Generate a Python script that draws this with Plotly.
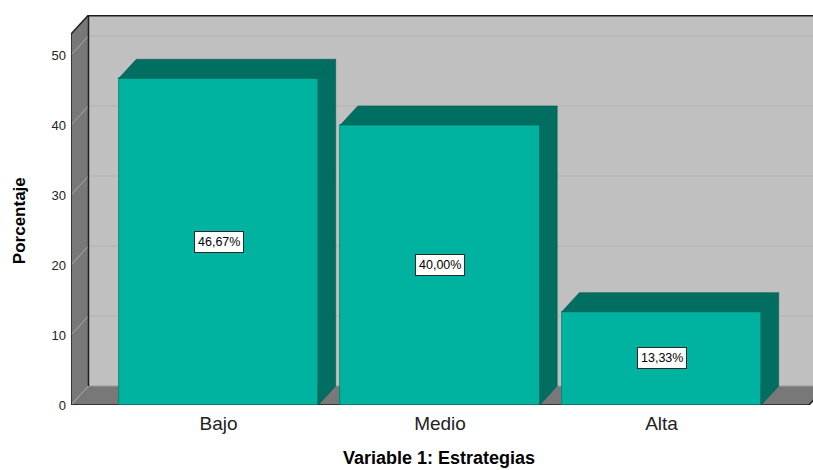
import plotly.graph_objects as go

# Data
categories = ["Bajo", "Medio", "Alta"]
percentages = [46.67, 40.00, 13.33]
y_ticks = [0, 10, 20, 30, 40, 50]

# Colours
FRONT = "#00B3A1"
DARK_FACE = "#006F62"
WALL = "#C0C0C0"
SIDE_WALL = "#787878"
EDGE = "#1E1E1E"

# 3D frame geometry (data units)
X0, XR = -0.666, 2.666          # front left / right of the floor
X_MAX = 2.684                   # right end of the visible x range
DX, DY = 0.079, 2.714           # depth offset (x units, y units)
H = 53.0                        # wall height at the front
Y_MAX = H + DY
BAR_W = 0.9

fig = go.Figure()

# Bar front faces
fig.add_trace(go.Bar(
    x=list(range(len(categories))), y=percentages, width=BAR_W,
    marker=dict(color=FRONT, line=dict(color="#00806F", width=0.8)),
    hoverinfo="skip", showlegend=False,
))

# Top and right faces of each bar, computed from its value
for i, v in enumerate(percentages):
    l, r = i - BAR_W / 2, i + BAR_W / 2
    fig.add_trace(go.Scatter(
        x=[l, r, r + DX, l + DX, l], y=[v, v, v + DY, v + DY, v],
        fill="toself", fillcolor=DARK_FACE, mode="lines",
        line=dict(color="#005A50", width=0.6),
        hoverinfo="skip", showlegend=False,
    ))
    fig.add_trace(go.Scatter(
        x=[r, r + DX, r + DX, r, r], y=[0, DY, v + DY, v, 0],
        fill="toself", fillcolor=DARK_FACE, mode="lines",
        line=dict(color="#005A50", width=0.6),
        hoverinfo="skip", showlegend=False,
    ))

shapes = []


def path(points):
    return "M " + " L ".join(f"{x},{y}" for x, y in points) + " Z"


# Back wall
shapes.append(dict(type="path", layer="below", line=dict(width=0), fillcolor=WALL,
                   path=path([(X0 + DX, DY), (X_MAX + 0.2, DY), (X_MAX + 0.2, Y_MAX), (X0 + DX, Y_MAX)])))
# Left wall
shapes.append(dict(type="path", layer="below", line=dict(width=0), fillcolor=SIDE_WALL,
                   path=path([(X0, 0), (X0 + DX, DY), (X0 + DX, Y_MAX), (X0, H)])))
# Floor
shapes.append(dict(type="path", layer="below", line=dict(width=0), fillcolor=SIDE_WALL,
                   path=path([(X0, 0), (XR, 0), (XR + DX, DY), (X0 + DX, DY)])))

# Gridlines on the back wall and on the left wall
for v in y_ticks:
    if v > 0:
        shapes.append(dict(type="line", layer="below", x0=X0 + DX, x1=X_MAX + 0.2,
                           y0=v + DY, y1=v + DY, line=dict(color="#B2B2B2", width=1.2)))
    shapes.append(dict(type="line", layer="below", x0=X0, x1=X0 + DX,
                       y0=v, y1=v + DY, line=dict(color="#A8A8A8", width=1)))
# Floor back edge
shapes.append(dict(type="line", layer="below", x0=X0 + DX, x1=X_MAX + 0.2, y0=DY, y1=DY,
                   line=dict(color="#9A9A9A", width=1)))

# Dark frame edges
edge = dict(color=EDGE, width=1.5)
shapes += [
    dict(type="line", layer="below", x0=X0, x1=X0, y0=0, y1=H, line=edge),
    dict(type="line", layer="below", x0=X0, x1=X0 + DX, y0=H, y1=Y_MAX, line=edge),
    dict(type="line", layer="below", x0=X0 + DX, x1=X0 + DX, y0=DY, y1=Y_MAX, line=edge),
    dict(type="line", layer="below", x0=X0 + DX, x1=X_MAX + 0.2, y0=Y_MAX - 0.1, y1=Y_MAX - 0.1, line=edge),
    dict(type="line", layer="below", x0=X0, x1=XR, y0=0, y1=0, line=edge),
    dict(type="line", layer="below", x0=XR, x1=XR + DX, y0=0, y1=DY, line=edge),
]

# Value labels in the middle of each bar
annotations = []
for i, v in enumerate(percentages):
    annotations.append(dict(
        x=i, y=v / 2, xref="x", yref="y", showarrow=False,
        text=f"{v:.2f}%".replace(".", ","),
        font=dict(family="Liberation Sans, Arial, sans-serif", size=12.5, color="#000000"),
        bgcolor="#FFFFFF", bordercolor="#2A2A2A", borderwidth=1, borderpad=3,
    ))

# Axis titles
annotations.append(dict(
    x=-0.0701, y=0.474, xref="paper", yref="paper", showarrow=False, textangle=-90,
    text="<b>Porcentaje</b>", xanchor="center", yanchor="middle",
    font=dict(family="Liberation Sans, Arial, sans-serif", size=17, color="#000000"),
))
annotations.append(dict(
    x=0.496, y=-0.137, xref="paper", yref="paper", showarrow=False,
    text="<b>Variable 1: Estrategias</b>", xanchor="center", yanchor="middle",
    font=dict(family="Liberation Sans, Arial, sans-serif", size=18, color="#000000"),
))

fig.update_layout(
    width=813, height=470, autosize=False,
    margin=dict(l=71, r=0, t=15, b=65, pad=0),
    paper_bgcolor="#FFFFFF", plot_bgcolor="#FFFFFF",
    shapes=shapes, annotations=annotations, showlegend=False,
    bargap=0,
    xaxis=dict(
        range=[X0, X_MAX], tickvals=list(range(len(categories))), ticktext=categories,
        showgrid=False, zeroline=False, showline=False, ticks="", ticklabelstandoff=5,
        tickfont=dict(family="Liberation Sans, Arial, sans-serif", size=19, color="#222222"),
        fixedrange=True,
    ),
    yaxis=dict(
        range=[0, Y_MAX], tickvals=y_ticks, showgrid=False, zeroline=False, showline=False,
        ticks="", ticklabelstandoff=4,
        tickfont=dict(family="Liberation Sans, Arial, sans-serif", size=13, color="#222222"),
        fixedrange=True,
    ),
)

fig.write_html("out.html")
